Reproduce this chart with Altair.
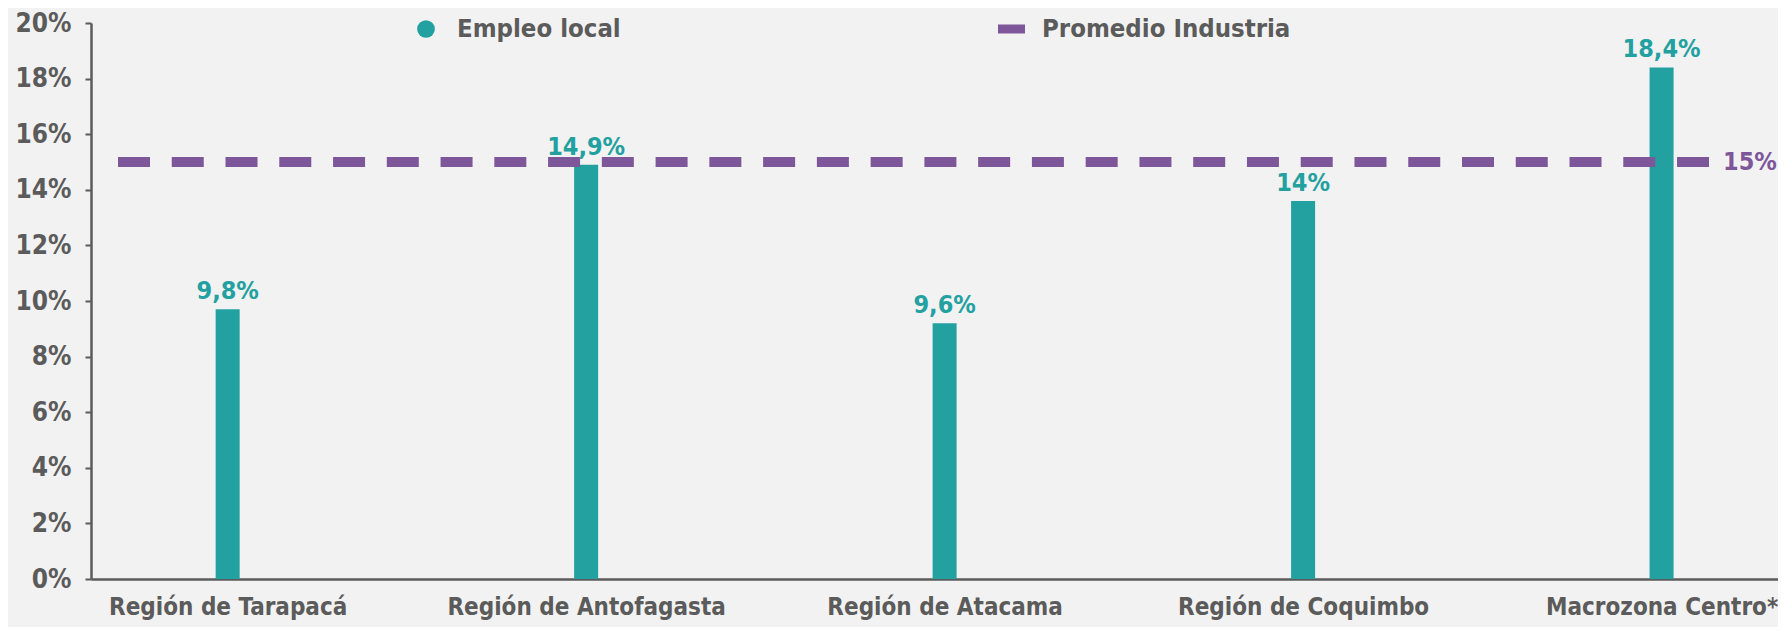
import altair as alt
import pandas as pd

# ---- data ----
regiones = ["Región de Tarapacá", "Región de Antofagasta", "Región de Atacama",
            "Región de Coquimbo", "Macrozona Centro*"]
empleo_barra = [9.7, 14.9, 9.2, 13.6, 18.4]          # bar heights as drawn
empleo_etiqueta = ["9,8%", "14,9%", "9,6%", "14%", "18,4%"]  # printed labels
promedio_industria = [15]
promedio_etiqueta = ["15%"]
y_ticks = [0, 2, 4, 6, 8, 10, 12, 14, 16, 18, 20]
series = ["Empleo local", "Promedio Industria"]

# ---- style ----
TEAL = "#23a0a0"
PURPLE = "#7e579b"
GREY = "#5b5b5b"
BG = "#f2f2f2"
FONT = "DejaVu Sans Condensed, Liberation Sans Narrow, Arial Narrow, sans-serif"
W, H = 1687, 556

df = pd.DataFrame({"region": regiones, "valor": empleo_barra, "etiqueta": empleo_etiqueta})
df_prom = pd.DataFrame({"valor": promedio_industria, "etiqueta": promedio_etiqueta})
df_leg1 = pd.DataFrame({"serie": [series[0]]})
df_leg2 = pd.DataFrame({"serie": [series[1]]})

x_enc = alt.X(
    "region:N", sort=regiones,
    scale=alt.Scale(type="point", padding=0.353, align=0.54),
    axis=alt.Axis(title=None, labelFont=FONT, labelFontSize=24, labelFontWeight="bold",
                  labelColor=GREY, ticks=False, domainColor=GREY, domainWidth=2.5,
                  labelPadding=16, labelAngle=0, labelLimit=400),
)
y_enc = alt.Y(
    "valor:Q",
    scale=alt.Scale(domain=[0, 20], nice=False),
    axis=alt.Axis(title=None, values=y_ticks, labelExpr="datum.value + '%'",
                  labelFont=FONT, labelFontSize=26, labelFontWeight="bold",
                  labelColor=GREY, grid=False, domainColor=GREY, domainWidth=2.5,
                  tickColor=GREY, tickSize=6, tickWidth=2, labelPadding=14),
)

bars = alt.Chart(df).mark_bar(size=24, color=TEAL).encode(x=x_enc, y=y_enc)

bar_labels = alt.Chart(df).mark_text(
    font=FONT, fontSize=25, fontWeight="bold", color=TEAL, baseline="bottom", dy=-5
).encode(x=alt.X("region:N", sort=regiones), y="valor:Q", text="etiqueta:N")

prom_line = alt.Chart(df_prom).mark_rule(
    color=PURPLE, strokeWidth=10, strokeDash=[32, 21.76], strokeCap="butt"
).encode(y="valor:Q", x=alt.value(27), x2=alt.value(1618))

prom_label = alt.Chart(df_prom).mark_text(
    font=FONT, fontSize=25, fontWeight="bold", color=PURPLE, align="left", baseline="middle"
).encode(y="valor:Q", x=alt.value(1632), text="etiqueta:N")

leg_dot = alt.Chart(df_leg1).mark_point(
    filled=True, shape="circle", size=314, color=TEAL, opacity=1
).encode(x=alt.value(335), y=alt.value(6))
leg_txt1 = alt.Chart(df_leg1).mark_text(
    font=FONT, fontSize=25.5, fontWeight="bold", color=GREY, align="left", baseline="middle"
).encode(x=alt.value(366), y=alt.value(6), text="serie:N")
leg_bar = alt.Chart(df_leg2).mark_rule(color=PURPLE, strokeWidth=9, strokeCap="butt").encode(
    x=alt.value(907), x2=alt.value(934), y=alt.value(6))
leg_txt2 = alt.Chart(df_leg2).mark_text(
    font=FONT, fontSize=25.5, fontWeight="bold", color=GREY, align="left", baseline="middle"
).encode(x=alt.value(951), y=alt.value(6), text="serie:N")

chart = alt.layer(
    bars, prom_line, bar_labels, prom_label, leg_dot, leg_txt1, leg_bar, leg_txt2
).properties(
    width=W, height=H, background=BG,
    padding={"left": 83, "top": 15, "right": 0, "bottom": 48},
    autosize=alt.AutoSizeParams(type="none"),
).configure_view(stroke=None)

chart.save("out.html", embed_options={"renderer": "svg", "actions": False})
